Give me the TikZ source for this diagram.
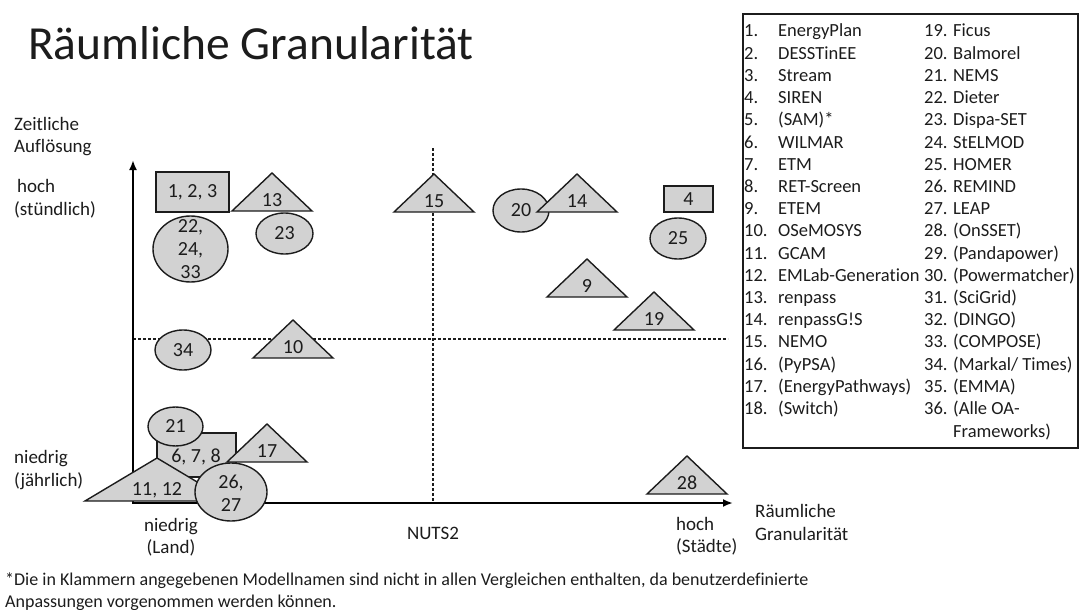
\documentclass[tikz,border=0pt]{standalone}
\usepackage{fontspec}
\setmainfont{Carlito}[Ligatures=NoCommon]
\usetikzlibrary{shapes.geometric,arrows.meta}
\definecolor{shapefill}{RGB}{210,210,210}
\definecolor{inkgray}{RGB}{28,28,28}
\tikzset{
  basic/.style   = {text=inkgray, inner sep=0pt},
  axtext/.style  = {basic, anchor=base west, font=\fontsize{19}{23}\selectfont},
  legtext/.style = {basic, anchor=base west, font=\fontsize{18.5}{22}\selectfont},
  lbl/.style     = {basic, align=center, font=\fontsize{20}{23}\selectfont},
  form/.style    = {draw=inkgray, line width=1.4pt, fill=shapefill},
  oval/.style    = {form, ellipse, inner sep=0pt},
  box/.style     = {form, rectangle, inner sep=0pt},
  axis/.style    = {draw=black, line width=2.6pt},
  gridline/.style = {draw=inkgray, line width=1.5pt, dash pattern=on 3pt off 2pt}
}
% triangle: name, apex x, base y, label
\newcommand\modeltri[4]{%
  \filldraw[form] (#2-40,#3) -- (#2,#3-38) -- (#2+40,#3) -- cycle;
  \node[lbl] (#1) at (#2,#3-11) {#4};}

\begin{document}
\begin{tikzpicture}[x=1pt, y=-1pt, >={Latex[length=10pt,width=8pt]}]
\useasboundingbox (0,0) rectangle (1088,610);

% title
\node[basic, anchor=base west, font=\fontsize{47.5}{50}\selectfont] (title) at (28,60) {Räumliche Granularität};

% quadrant lines and axes
\coordinate (origin) at (133,503);
\coordinate (ytip) at (133,160);
\coordinate (xtip) at (733,503);
\coordinate (vtop) at (433,148);
\coordinate (vbot) at (433,503);
\coordinate (hleft) at (133,339);
\coordinate (hright) at (728,339);
\draw[gridline] (vtop) -- (vbot);
\draw[gridline] (hleft) -- (hright);
\draw[axis, <->] (ytip) -- (origin) -- (xtip);

% axis labels
\node[axtext] (zt1) at (14,130) {Zeitliche};
\node[axtext] (zt2) at (14,153) {Auflösung};
\node[axtext] (hi1) at (17,192) {hoch};
\node[axtext] (hi2) at (14,215) {(stündlich)};
\node[axtext] (lo1) at (14,463) {niedrig};
\node[axtext] (lo2) at (14,486) {(jährlich)};
\node[axtext, anchor=base] (land1) at (171,531) {niedrig};
\node[axtext, anchor=base] (land2) at (171,553) {(Land)};
\node[axtext, anchor=base] (nuts) at (433,539) {NUTS2};
\node[axtext] (city1) at (676,530) {hoch};
\node[axtext] (city2) at (676,552) {(Städte)};
\node[axtext] (rg1) at (755,517) {Räumliche};
\node[axtext] (rg2) at (755,540) {Granularität};

% upper half
\node[box, minimum width=73pt, minimum height=40pt] (r123) at (192.5,192) {};
\node[lbl] (r123t) at (r123) {1, 2, 3};
\node[oval, minimum width=75pt, minimum height=66pt] (e22) at (190.5,249) {};
\node[lbl] (e22t) at (190.5,249) {22,\\24,\\33};
\modeltri{t13}{272}{211}{13}
\node[oval, minimum width=57pt, minimum height=41pt] (e23) at (284.5,233.5) {};
\node[lbl] (e23t) at (e23) {23};
\modeltri{t15}{434}{212}{15}
\node[oval, minimum width=56pt, minimum height=43pt] (e20) at (521,210.5) {};
\node[lbl] (e20t) at (e20) {20};
\modeltri{t14}{577}{212}{14}
\node[box, minimum width=49pt, minimum height=26pt] (r4) at (688.5,199) {};
\node[lbl] (r4t) at (r4) {4};
\node[oval, minimum width=56pt, minimum height=41pt] (e25) at (678,238.5) {};
\node[lbl] (e25t) at (e25) {25};
\modeltri{t9}{587}{297}{9}
\modeltri{t19}{654}{330}{19}

% lower half
\node[oval, minimum width=56pt, minimum height=40pt] (e34) at (183,350) {};
\node[lbl] (e34t) at (e34) {34};
\modeltri{t10}{293}{358}{10}
\modeltri{t28}{687}{494}{28}
\node[box, minimum width=79pt, minimum height=44pt] (r678) at (196.5,455) {};
\node[lbl] (r678t) at (196,457) {6, 7, 8};
\node[oval, minimum width=55pt, minimum height=39pt] (e21) at (175.5,426.5) {};
\node[lbl] (e21t) at (e21) {21};
\modeltri{t17}{267}{462}{17}
\filldraw[form] (85,501) -- (157,458) -- (229,501) -- cycle;
\node[lbl] (t1112) at (157,490) {11, 12};
\node[oval, minimum width=72pt, minimum height=58pt] (e26) at (231,492) {};
\node[lbl] (e26t) at (231,493) {26,\\27};

% legend
\node[draw=inkgray, line width=2pt, minimum width=335pt, minimum height=434pt, anchor=north west, inner sep=0pt] (legend) at (742,13) {};
\foreach \mname [count=\i] in {EnergyPlan, DESSTinEE, Stream, SIREN, {(SAM)*}, WILMAR, ETM, RET-Screen, ETEM, OSeMOSYS, GCAM, EMLab-Generation, renpass, renpassG!S, NEMO, {(PyPSA)}, {(EnergyPathways)}, {(Switch)}}{
  \node[legtext] (n\i) at (744,{37+22.2*(\i-1)}) {\i.};
  \node[legtext] (m\i) at (778,{37+22.2*(\i-1)}) {\mname};
}
\foreach \mname [count=\i from 19] in {Ficus, Balmorel, NEMS, Dieter, Dispa-SET, StELMOD, HOMER, REMIND, LEAP, {(OnSSET)}, {(Pandapower)}, {(Powermatcher)}, {(SciGrid)}, {(DINGO)}, {(COMPOSE)}, {(Markal/ Times)}, {(EMMA)}, {(Alle OA-}}{
  \node[legtext] (n\i) at (924,{37+22.2*(\i-19)}) {\i.};
  \node[legtext] (m\i) at (953,{37+22.2*(\i-19)}) {\mname};
}
\node[legtext] (m36b) at (953,437) {Frameworks)};

% footnote
\node[axtext, font=\fontsize{18}{22}\selectfont] (fn1) at (5,585) {*Die in Klammern angegebenen Modellnamen sind nicht in allen Vergleichen enthalten, da benutzerdefinierte};
\node[axtext, font=\fontsize{18}{22}\selectfont] (fn2) at (5,607) {Anpassungen vorgenommen werden können.};
\end{tikzpicture}
\end{document}
